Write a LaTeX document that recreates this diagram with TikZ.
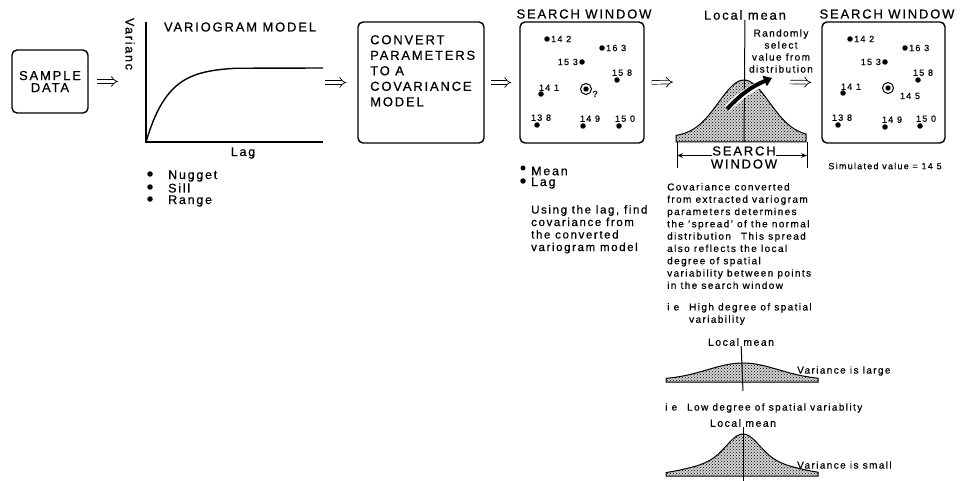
\documentclass[tikz,border=0pt]{standalone}
\usepackage{fontspec}
\setmainfont[LetterSpace=14,FakeBold=0.6]{Liberation Sans}
\usepackage{tikz}
\usetikzlibrary{arrows.meta,patterns}

\begin{document}
\begin{tikzpicture}[x=1pt,y=-1pt,box/.style={draw,line width=1.4pt,rounded corners=5pt,inner sep=0pt},spot/.style={circle,fill,inner sep=0pt,minimum size=5.5pt},target/.style={circle,draw,line width=1pt,inner sep=0pt,minimum size=11pt},val/.style={font=\fontsize{9}{10}\selectfont,inner sep=1pt},heading/.style={font=\fontsize{13}{15}\selectfont,inner sep=0pt},txt/.style={font=\fontsize{12.5}{13}\selectfont,inner sep=0pt},imp/.style={double,double distance=3pt,line width=0.7pt,-{Implies}},note/.style={font=\fontsize{10}{12.3}\selectfont,align=left,anchor=north west,inner sep=0pt},bell/.style={draw,line width=1pt,preaction={fill=black!18},pattern=crosshatch dots}]
\useasboundingbox (0,0) rectangle (963,481);
% sample data
\node[box,minimum width=76pt,minimum height=63pt,align=center,font=\fontsize{13}{12}\selectfont] (sample) at (50,81.5) {SAMPLE\\DATA};
% variogram model
\coordinate (org) at (146,142);
\coordinate (sill) at (323,68);
\draw[line width=1.4pt] (146,22) -- (org) -- (323,142);
\draw[line width=1.4pt] (org) -- plot[domain=0:90,samples=40] ({146+\x},{142-75*(1-exp(-\x/22))}) -- (sill);
\node[heading] (vtitle) at (240,27) {VARIOGRAM MODEL};
\node[txt,rotate=-90] (vlabel) at (130,44) {Varianc};
\node[txt] (lag) at (243,153) {Lag};
\node[spot,minimum size=5.5pt] (b1) at (150,174) {};
\node[spot,minimum size=5.5pt] (b2) at (150,187) {};
\node[spot,minimum size=5.5pt] (b3) at (150,199) {};
\node[txt,anchor=west] (nugget) at (168,176) {Nugget};
\node[txt,anchor=west] (sill2) at (168,188) {Sill};
\node[txt,anchor=west] (range) at (168,201) {Range};
% convert
\node[box,minimum width=126pt,minimum height=121pt] (convert) at (421,82.5) {};
\node[anchor=north west,align=left,inner sep=0pt,font=\fontsize{13}{15.5}\selectfont] (ctext) at (370,35) {CONVERT\\PARAMETERS\\TO A\\COVARIANCE\\MODEL};
% first search window
\node[box,minimum width=124pt,minimum height=121pt] (win1) at (582,82.5) {};
\node[heading] (w1title) at (584,14) {SEARCH WINDOW};
\node[spot,label={[val]right:14 2}] (w1a) at (547,39) {};
\node[spot,label={[val]right:16 3}] (w1b) at (602,48) {};
\node[spot,label={[val]left:15 3}] (w1c) at (582,62) {};
\node[spot,label={[val,xshift=5pt]above:15 8}] (w1d) at (617,80) {};
\node[spot,label={[val,xshift=8pt,yshift=-1pt]above:14 1}] (w1e) at (541,94) {};
\node[target] (w1t) at (586,89) {};
\fill (w1t) circle (2.7);
\node[val] (w1q) at (595,94) {?};
\node[spot,label={[val,xshift=4pt]above:13 8}] (w1f) at (537,125) {};
\node[spot,label={[val,xshift=7pt]above:14 9}] (w1g) at (583,126) {};
\node[spot,label={[val,xshift=6pt]above:15 0}] (w1h) at (619,126) {};
\node[spot,minimum size=5pt] (m1) at (523,168) {};
\node[spot,minimum size=5.5pt] (m2) at (523,181) {};
\node[txt,anchor=west] (mean) at (531,171) {Mean};
\node[txt,anchor=west] (lag2) at (531,183) {Lag};
\node[note,font=\fontsize{11.5}{12.5}\selectfont] (using) at (531,205) {Using the lag, find\\covariance from\\the converted\\variogram model};
% distribution
\node[heading] (lmean) at (745,15) {Local mean};
\coordinate (peak) at (744,142);
\draw[bell] (676,142) -- plot[domain=676:806,samples=60] (\x,{137-57*exp(-((\x-744)/36)^2)}) -- (806,142) -- cycle;
\draw[line width=1pt] (lmean) -- (peak);
\node[font=\fontsize{10}{12}\selectfont,align=center,inner sep=0pt] (pick) at (781,51) {Randomly\\select\\value from\\distribution};
\coordinate (grab) at (727,109);
\draw[white,line width=7pt] (grab) to[bend left=12] (770,80);
\draw[line width=4pt,-{Triangle[length=8pt,width=11pt]}] (grab) to[bend left=12] (772,78);
\node[heading] (sw1) at (744,151) {SEARCH};
\node[heading] (sw2) at (744,164) {WINDOW};
\coordinate (swl) at (677,142);
\coordinate (swr) at (807,142);
\draw[line width=1pt] (swl) -- ++(0,26);
\draw[line width=1pt] (swr) -- ++(0,26);
\draw[line width=1pt,-{Stealth[length=6pt]}] (sw1.base west) -- (sw1.base west -| swl);
\draw[line width=1pt,-{Stealth[length=6pt]}] (sw1.base east) -- (sw1.base east -| swr);
\node[note] (spread) at (667,183) {Covariance converted\\from extracted variogram\\parameters determines\\the `spread' of the normal\\distribution\quad This spread\\also reflects the local\\degree of spatial\\variability between points\\in the search window};
\node[note] (high) at (667,303) {i e\quad High degree of spatial\\\phantom{i e\quad }variability};
\node[font=\fontsize{10.5}{12}\selectfont,inner sep=0pt] (lmean2) at (741,342) {Local mean};
\draw[bell] (666,382) -- plot[domain=666:818,samples=60] (\x,{380-17*exp(-((\x-743)/50)^2)}) -- (818,382) -- cycle;
\draw[line width=1pt] (lmean2) -- (743,391);
\node[note,anchor=west] (large) at (797,371) {Variance is large};
\node[note,anchor=west] (low) at (665,408) {i e\quad Low degree of spatial variablity};
\node[font=\fontsize{10.5}{12}\selectfont,inner sep=0pt] (lmean3) at (743,423) {Local mean};
\draw[bell] (666,476) -- plot[domain=666:818,samples=80] (\x,{476-18*exp(-((\x-743)/60)^2)-24*exp(-((\x-743)/22)^2)}) -- (818,476) -- cycle;
\draw[line width=1pt] (lmean3) -- (743,481);
\node[note,anchor=west] (small) at (797,465) {Variance is small};
% second search window
\node[box,minimum width=123pt,minimum height=121pt] (win2) at (883.5,82.5) {};
\node[heading] (w2title) at (887,14) {SEARCH WINDOW};
\node[spot,label={[val]right:14 2}] (w2a) at (850,39) {};
\node[spot,label={[val]right:16 3}] (w2b) at (905,48) {};
\node[spot,label={[val]left:15 3}] (w2c) at (885,62) {};
\node[spot,label={[val,xshift=5pt]above:15 8}] (w2d) at (918,80) {};
\node[spot,label={[val,xshift=8pt,yshift=-1pt]above:14 1}] (w2e) at (843,93) {};
\node[target] (w2t) at (888,88) {};
\fill (w2t) circle (2.7);
\node[val] (w2v) at (910,96) {14 5};
\node[spot,label={[val,xshift=4pt]above:13 8}] (w2f) at (838,125) {};
\node[spot,label={[val,xshift=7pt]above:14 9}] (w2g) at (885,127) {};
\node[spot,label={[val,xshift=6pt]above:15 0}] (w2h) at (920,126) {};
\node[val] (simval) at (885,166) {Simulated value = 14 5};
% arrows
\coordinate (bellL) at (676,82);
\coordinate (go) at (790,82);
\draw[imp,shorten <=8pt,shorten >=28pt] (sample.east) -- (sample.east -| org);
\draw[imp,shorten <=2pt,shorten >=11pt] (sill |- convert.west) -- (convert.west);
\draw[imp,shorten <=6pt,shorten >=8pt] (convert.east) -- (win1.west);
\draw[imp,shorten <=7pt,shorten >=3pt] (win1.east) -- (bellL);
\draw[imp,shorten >=10pt] (go) -- (win2.west);
\end{tikzpicture}
\end{document}
